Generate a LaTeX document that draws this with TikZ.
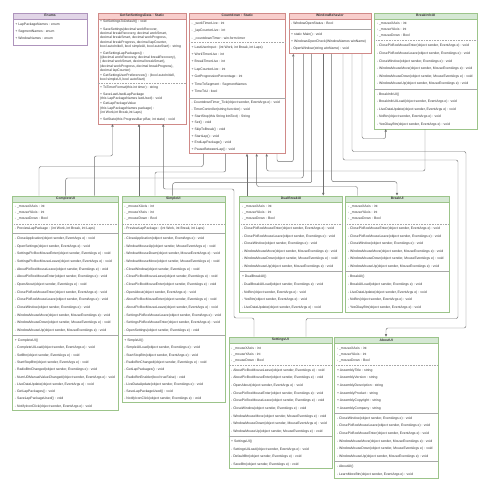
\documentclass[tikz,border=0pt]{standalone}
\usepackage{fontspec}
\setmainfont{Liberation Sans}
\usetikzlibrary{arrows.meta}
\definecolor{pinkf}{HTML}{F8CECC}\definecolor{pinkd}{HTML}{D08A88}
\definecolor{greenf}{HTML}{D5E8D4}\definecolor{greend}{HTML}{9CC48A}
\definecolor{purf}{HTML}{E1D5E7}\definecolor{purd}{HTML}{AE94BC}
\definecolor{textc}{HTML}{333333}\definecolor{linec}{HTML}{707070}
\definecolor{sepc}{HTML}{A8A8A8}
\newcommand\sect[5]{\foreach \mytext [count=\i] in {#5}{\node[txt] (#1\i) at ({#2},{#3+(\i-1)*#4}) {\mytext};}}
\newcommand\umlbox[8]{%
  \node[body, draw=#7, minimum width=#4pt, minimum height=#5pt, anchor=north west] (#1) at (#2,#3) {};
  \node[hdr, fill=#6, draw=#7, minimum width=#4pt, anchor=north west] (#1-h) at (#2,#3) {#8};}
\newcommand\dsep[2]{\draw[dsepline] (#1.west |- 0,#2) -- (#1.east |- 0,#2);}
\newcommand\ssep[2]{\draw[ssepline] (#1.west |- 0,#2) -- (#1.east |- 0,#2);}
\begin{document}
\begin{tikzpicture}[x=1pt,y=-1pt,
  txt/.style={anchor=west, inner sep=0pt, font=\fontsize{3.4}{4}\selectfont, text=textc, text height=2.45pt, text depth=0.7pt},
  hdr/.style={inner sep=0pt, minimum height=6pt, line width=0.5pt, font=\bfseries\fontsize{3.4}{4}\selectfont, text=textc},
  body/.style={inner sep=0pt, fill=white, line width=0.5pt},
  dsepline/.style={draw=sepc, line width=0.4pt, dash pattern=on 0.8pt off 0.8pt},
  ssepline/.style={draw=sepc, line width=0.8pt},
  conn/.style={draw=linec, line width=0.45pt, rounded corners=2pt},
  arr/.style={-{Triangle[length=2.6pt,width=2.2pt]}}]
\useasboundingbox (0,0) rectangle (478,480);
\fill[white] (0,0) rectangle (478,480);

% ---------- Enums
\umlbox{Enums}{12.7}{12.5}{74.3}{32.5}{purf}{purd}{Enums}
\sect{en}{15.2}{24.3}{7}{{+ LapPackageNames : enum},{+ SegmentNames : enum},{+ WindowNames : enum}}

% ---------- GetSetSettingsData
\umlbox{GetSet}{97.5}{12.5}{88.5}{111}{pinkf}{pinkd}{GetSetSettingsData : Static}
\sect{gsa}{100}{21.7}{0}{{+ SetSettingsToDefault() : void}}
\sect{gsb}{100}{29.3}{4.3}{{+ SaveSettings(decimal workRecover,},{decimal breakRecovery, decimal workSmart,},{decimal breakSmart, decimal workProgress,},{decimal breakProgress, decimal lapCounter,},{bool autoInitiell, bool simpleUI, bool autoStart) : string}}
\sect{gsc}{100}{53.3}{4.3}{{+ GetSettingLapPackages() :},{((decimal workRecovery, decimal breakRecovery),},{( decimal workSmart, decimal breakSmart),},{(decimal workProgress, decimal breakProgress),},{decimal lapCounter)}}
\sect{gsd}{100}{75.7}{4.3}{{+ GetSettingUserPreferences() : (bool autoInitiell,},{bool simpleUI, bool autoStart)}}
\dsep{GetSet}{83.3}
\sect{gse}{100}{87.7}{0}{{+ ToTimerFormat(this int timer) : string}}
\sect{gsf}{100}{94.3}{4.3}{{+ SaveLastUsedLapPackage},{(this LapPackageNames lastUsed) : void}}
\sect{gsg}{100}{104}{4.3}{{+ GetLapPackageValue},{(this LapPackageNames package) :},{(int Work,int Break,int Laps)}}
\sect{gsh}{100}{119.3}{0}{{+ SetState(this ProgressBar pBar, int state) : void}}

% ---------- Countdown
\umlbox{Countdown}{189}{12.5}{96}{140.8}{pinkf}{pinkd}{Countdown : Static}
\sect{cda}{191.5}{24}{7.1}{{- \_workTimerLive : int},{- \_lapCounterLive : int},{- \_countdownTimer : win.form.timer}}
\dsep{Countdown}{42.3}
\sect{cdb}{191.5}{47.3}{7.4}{{+ LastUserInput : (int Work, int Break, int Laps)},{+ WorkTimerLive : int},{+ BreakTimerLive : int},{+ LapCounterLive : int},{+ GetProgressionPercentage : int},{+ TimeToSegment : SegmentNames},{+ TimeToU : bool}}
\ssep{Countdown}{98.3}
\sect{cdc}{191.5}{103}{6.67}{{- CountdownTimer\_Tick(object sender, EventArgs e) : void},{- TimerController(string function) : void},{+ StartStop(this String btnText) : String},{+ Set() : void},{+ SkipToBreak() : void},{+ StartLap() : void},{+ EndLapPackage() : void},{+ PauseBetweenLap() : void}}

% ---------- WindowBehavior
\umlbox{WinBeh}{288.5}{12.5}{82.5}{40.8}{pinkf}{pinkd}{WindowBehavior}
\sect{wba}{291}{24}{0}{{- WindowOpenStatus : Bool}}
\ssep{WinBeh}{29.5}
\sect{wbb}{291}{34.3}{7.2}{{+ static Main() : void},{+ WindowsOpenCheck(WindowNames winName)},{- OpenWindow(string winName) : void}}

% ---------- BreakInfoUI
\umlbox{BreakInfoUI}{374.3}{12.5}{102.2}{116}{greenf}{greend}{BreakInfoUI}
\sect{bia}{376.8}{24}{6}{{- \_mouseXAxis : int},{- \_mouseYAxis : int},{- \_mouseDown : Bool}}
\dsep{BreakInfoUI}{40.3}
\sect{bib}{376.8}{46}{7.6}{{- ClosePicBoxMouseEnter(object sender, EventArgs e) : void},{- ClosePicBoxMouseLeave(object sender, EventArgs e) : void},{- CloseWindow(object sender, EventArgs e) : void},{- WindowMouseMove(object sender, MouseEventArgs e) : void},{- WindowMouseDown(object sender, MouseEventArgs e) : void},{- WindowMouseUp(object sender, MouseEventArgs e) : void}}
\ssep{BreakInfoUI}{89.3}
\sect{bic}{376.8}{94.5}{7.5}{{- BreakInfoUI()},{- BreakInfoUILoad(object sender, EventArgs e) : void},{- LiveDataUpdate(object sender, EventArgs e) : void},{- NoBtn(object sender, EventArgs e) : void},{- YesOkayBtn(object sender, EventArgs e) : void}}

% ---------- CompleteUI
\umlbox{CompleteUI}{12.3}{195.5}{106}{214.5}{greenf}{greend}{CompleteUI}
\sect{cua}{14.8}{206.7}{6.2}{{- \_mouseXAxis : int},{- \_mouseYAxis : int},{- \_mouseDown : Bool}}
\dsep{CompleteUI}{224}
\sect{cub}{14.8}{228.7}{0}{{- PreviewLapPackage : (int Work, int Break, int Laps)}}
\ssep{CompleteUI}{233.3}
\sect{cuc}{14.8}{238.7}{7.67}{{- CloseApplication(object sender, EventArgs e) : void},{- OpenSettings(object sender, EventArgs e) : void},{- SettingsPicBoxMouseEnter(object sender, EventArgs e) : void},{- SettingsPicBoxMouseLeave(object sender, EventArgs e) : void},{- AboutPicBoxMouseLeave(object sender, EventArgs e) : void},{- AboutPicBoxMouseEnter(object sender, EventArgs e) : void},{- OpenAbout(object sender, EventArgs e) : void},{- ClosePicBoxMouseEnter(object sender, EventArgs e) : void},{- ClosePicBoxMouseLeave(object sender, EventArgs e) : void},{- CloseWindow(object sender, EventArgs e) : void},{- WindowMouseMove(object sender, MouseEventArgs e) : void},{- WindowMouseDown(object sender, MouseEventArgs e) : void},{- WindowMouseUp(object sender, MouseEventArgs e) : void}}
\ssep{CompleteUI}{335}
\sect{cud}{14.8}{340.7}{7.29}{{+ CompleteUI()},{- CompleteUILoad(object sender, EventArgs e) : void},{- SetBtn(object sender, EventArgs e) : void},{- StartStopBtn(object sender, EventArgs e) : void},{- RadioBtnChanged(object sender, EventArgs e) : void},{- NumUDManualValueChanged(object sender, EventArgs e) : void},{- LiveDataUpdate(object sender, EventArgs e) : void},{- GetLapPackages() : void},{- SaveLapPackageUsed() : void},{- NotifyIconClick(object sender, EventArgs e) : void}}

% ---------- SimpleUI
\umlbox{SimpleUI}{121.7}{195.5}{102.8}{206.8}{greenf}{greend}{SimpleUI}
\sect{sua}{124.2}{206.7}{6.2}{{- \_mouseXAxis : int},{- \_mouseYAxis : int},{- \_mouseDown : Bool}}
\dsep{SimpleUI}{224}
\sect{sub}{124.2}{228.7}{0}{{- PreviewLapPackage : (int Work, int Break, int Laps)}}
\ssep{SimpleUI}{233.3}
\sect{suc}{124.2}{238.7}{7.67}{{- CloseApplication(object sender, EventArgs e) : void},{- WindowMouseUp(object sender, MouseEventArgs e) : void},{- WindowMouseDown(object sender, MouseEventArgs e) : void},{- WindowMouseMove(object sender, MouseEventArgs e) : void},{- CloseWindow(object sender, EventArgs e) : void},{- ClosePicBoxMouseLeave(object sender, EventArgs e) : void},{- ClosePicBoxMouseEnter(object sender, EventArgs e) : void},{- OpenAbout(object sender, EventArgs e) : void},{- AboutPicBoxMouseEnter(object sender, EventArgs e) : void},{- AboutPicBoxMouseLeave(object sender, EventArgs e) : void},{- SettingsPicBoxMouseLeave(object sender, EventArgs e) : void},{- SettingsPicBoxMouseEnter(object sender, EventArgs e) : void},{- OpenSettings(object sender, EventArgs e) : void}}
\ssep{SimpleUI}{335}
\sect{sud}{124.2}{340.7}{7.3}{{+ SimpleUI()},{- SimpleUILoad(object sender, EventArgs e) : void},{- StartStopBtn(object sender, EventArgs e) : void},{- RadioBtnChanged(object sender, EventArgs e) : void},{- GetLapPackages() : void},{- RadioBtnEnabler(bool trueFalse) : void},{- LiveDataUpdate(object sender, EventArgs e) : void},{- SaveLapPackageUsed() : void},{- NotifyIconClick(object sender, EventArgs e) : void}}

% ---------- DualBreakUI
\umlbox{DualBreakUI}{239.3}{195.5}{103}{116.2}{greenf}{greend}{DualBreakUI}
\sect{dba}{241.8}{206.7}{6.2}{{- \_mouseXAxis : int},{- \_mouseYAxis : int},{- \_mouseDown : Bool}}
\dsep{DualBreakUI}{224}
\sect{dbb}{241.8}{228.7}{7.6}{{- ClosePicBoxMouseEnter(object sender, EventArgs e) : void},{- ClosePicBoxMouseLeave(object sender, EventArgs e) : void},{- CloseWindow(object sender, EventArgs e) : void},{- WindowMouseMove(object sender, MouseEventArgs e) : void},{- WindowMouseDown(object sender, MouseEventArgs e) : void},{- WindowMouseUp(object sender, MouseEventArgs e) : void}}
\ssep{DualBreakUI}{271.7}
\sect{dbc}{241.8}{276.7}{7.75}{{+ DualBreakUI()},{- DualBreakUILoad(object sender, EventArgs e) : void},{- NoBtn(object sender, EventArgs e) : void},{- YesBtn(object sender, EventArgs e) : void},{- LiveDataUpdate(object sender, EventArgs e) : void}}

% ---------- BreakUI
\umlbox{BreakUI}{345.3}{195.5}{103.4}{116.2}{greenf}{greend}{BreakUI}
\sect{bua}{347.8}{206.7}{6.2}{{- \_mouseXAxis : int},{- \_mouseYAxis : int},{- \_mouseDown : Bool}}
\dsep{BreakUI}{224}
\sect{bub}{347.8}{228.7}{7.6}{{- ClosePicBoxMouseEnter(object sender, EventArgs e) : void},{- ClosePicBoxMouseLeave(object sender, EventArgs e) : void},{- CloseWindow(object sender, EventArgs e) : void},{- WindowMouseMove(object sender, MouseEventArgs e) : void},{- WindowMouseDown(object sender, MouseEventArgs e) : void},{- WindowMouseUp(object sender, MouseEventArgs e) : void}}
\ssep{BreakUI}{271.7}
\sect{buc}{347.8}{276.7}{7.75}{{- BreakUI()},{- BreakUILoad(object sender, EventArgs e) : void},{- LiveDataUpdate(object sender, EventArgs e) : void},{- NoBtn(object sender, EventArgs e) : void},{- YesOkayBtn(object sender, EventArgs e) : void}}

% ---------- SettingsUI
\umlbox{SettingsUI}{228.5}{336.7}{103.2}{131.6}{greenf}{greend}{SettingsUI}
\sect{sea}{231}{348.3}{6.2}{{- \_mouseXAxis : int},{- \_mouseYAxis : int},{- \_mouseDown : Bool}}
\dsep{SettingsUI}{365.3}
\sect{seb}{231}{370.3}{7.67}{{- AboutPicBoxMouseLeave(object sender, EventArgs e) : void},{- AboutPicBoxMouseEnter(object sender, EventArgs e) : void},{- OpenAbout(object sender, EventArgs e) : void},{- ClosePicBoxMouseEnter(object sender, EventArgs e) : void},{- ClosePicBoxMouseLeave(object sender, EventArgs e) : void},{- CloseWindow(object sender, EventArgs e) : void},{- WindowMouseMove(object sender, MouseEventArgs e) : void},{- WindowMouseDown(object sender, MouseEventArgs e) : void},{- WindowMouseUp(object sender, MouseEventArgs e) : void}}
\ssep{SettingsUI}{436.7}
\sect{sec}{231}{441.7}{7.67}{{+ SettingsUI()},{- SettingsUILoad(object sender, EventArgs e) : void},{- DefaultBtn(object sender, EventArgs e) : void},{- SaveBtn(object sender, EventArgs e) : void}}

% ---------- AboutUI
\umlbox{AboutUI}{334.3}{336.7}{103.4}{141.6}{greenf}{greend}{AboutUI}
\sect{aba}{336.8}{348.3}{6.2}{{- \_mouseXAxis : int},{- \_mouseYAxis : int},{- \_mouseDown : Bool}}
\dsep{AboutUI}{365.3}
\sect{abb}{336.8}{370.3}{7.67}{{+ AssemblyTitle : string},{+ AssemblyVersion : string},{+ AssemblyDescription : string},{+ AssemblyProduct : string},{+ AssemblyCopyright : string},{+ AssemblyCompany : string}}
\ssep{AboutUI}{413.3}
\sect{abc}{336.8}{418.3}{7.67}{{- CloseWindow(object sender, EventArgs e) : void},{- ClosePicBoxMouseLeave(object sender, EventArgs e) : void},{- ClosePicBoxMouseEnter(object sender, EventArgs e) : void},{- WindowMouseMove(object sender, MouseEventArgs e) : void},{- WindowMouseDown(object sender, MouseEventArgs e) : void},{- WindowMouseUp(object sender, MouseEventArgs e) : void}}
\ssep{AboutUI}{461.7}
\sect{abd}{336.8}{466.7}{7.6}{{- AboutUI()},{- LearnMoreBtn(object sender, EventArgs e) : void}}

% ---------- connectors
\draw[conn,arr] (CompleteUI.north -| 94.3,0) |- (112.5,156) -- (GetSet.south -| 112.5,0);
\draw[conn,arr] (SimpleUI.north -| 139,0) -- (GetSet.south -| 139,0);
\draw[conn,arr] (SettingsUI.north -| 254,0) |- (234,318) |- (163.3,189) -- (GetSet.south -| 163.3,0);
\draw[conn] (Countdown.south -| 203.3,0) |- (39,166.5) -- (CompleteUI.north -| 39,0);
\draw[conn] (Countdown.south -| 225.7,0) |- (155,172) -- (SimpleUI.north -| 155,0);
\draw[conn,arr] (DualBreakUI.north -| 247,0) -- (Countdown.south -| 247,0);
\draw[conn,arr] (BreakUI.north -| 357.5,0) |- (256.7,186.5) -- (Countdown.south -| 256.7,0);
\draw[conn,arr] (BreakInfoUI.south -| 425,0) |- (266.7,171) -- (Countdown.south -| 266.7,0);
\draw[conn,arr] (Countdown.south -| 277,0) |- (293.3,161.7) -- (WinBeh.south -| 293.3,0);
\draw[conn] (CompleteUI.north -| 65.7,0) |- (303.3,178) -- (WinBeh.south -| 303.3,0);
\draw[conn] (SimpleUI.north -| 172.7,0) |- (311.7,182.7) -- (WinBeh.south -| 311.7,0);
\draw[conn,arr] (WinBeh.south -| 323.3,0) -- (DualBreakUI.north -| 323.3,0);
\draw[conn,arr] (WinBeh.south -| 331.7,0) |- (397,181.7) -- (BreakUI.north -| 397,0);
\draw[conn] (WinBeh.south -| 343,0) |- (458,160) |- (306,318.5) -- (SettingsUI.north -| 306,0);
\draw[conn,arr] (WinBeh.south -| 352,0) |- (466,151.5) |- (386,328) -- (AboutUI.north -| 386,0);
\draw[conn,arr] (WinBeh.south -| 362,0) |- (385.7,138.5) -- (BreakInfoUI.south -| 385.7,0);
\end{tikzpicture}
\end{document}
